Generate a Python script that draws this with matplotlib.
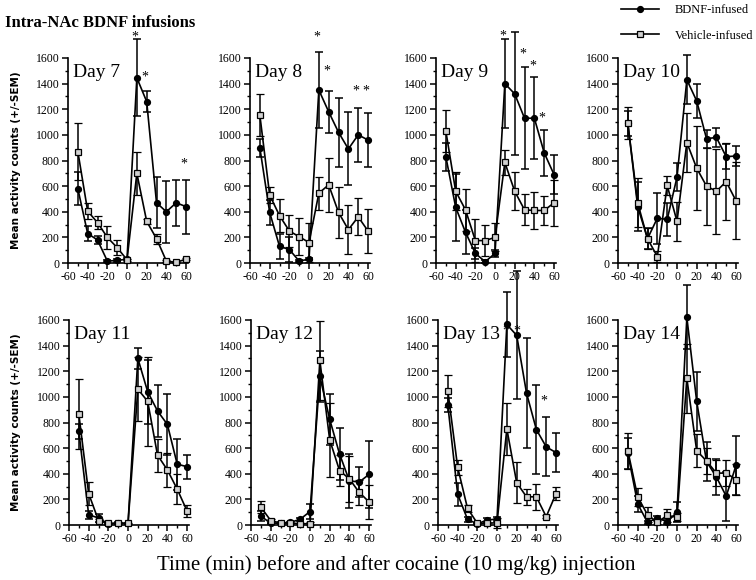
import matplotlib
matplotlib.use("Agg")
import matplotlib.pyplot as plt
from matplotlib.lines import Line2D
from matplotlib.ticker import MultipleLocator

plt.rcParams['font.family'] = ['Liberation Serif', 'DejaVu Serif']
plt.rcParams['axes.unicode_minus'] = False

# time points (min) relative to the cocaine injection
minutes = [-50, -40, -30, -20, -10, 0, 10, 20, 30, 40, 50, 60]

# Day 7
bdnf7 = [580, 230, 180, 15, 20, 30, 1445, 1260, 470, 400, 470, 440]
bdnf7_sem = [130, 60, 30, 10, 15, 10, 300, 85, 200, 240, 180, 210]
veh7 = [870, 405, 315, 200, 120, 25, 700, 325, 190, 15, 5, 30]
veh7_sem = [220, 60, 50, 90, 60, 10, 170, 20, 40, 10, 5, 10]
star7_x = [8, 18, 58]
star7_y = [1760, 1450, 770]

# Day 8
bdnf8 = [900, 395, 130, 105, 15, 30, 1350, 1180, 1020, 890, 1000, 960]
bdnf8_sem = [70, 100, 100, 100, 10, 10, 300, 165, 270, 285, 210, 210]
veh8 = [1155, 530, 370, 250, 205, 160, 545, 610, 395, 260, 360, 250]
veh8_sem = [165, 60, 130, 125, 145, 150, 130, 210, 200, 190, 145, 175]
star8_x = [8, 18, 48, 58]
star8_y = [1760, 1500, 1340, 1340]

# Day 9
bdnf9 = [830, 435, 240, 75, 10, 75, 1400, 1320, 1130, 1130, 860, 690]
bdnf9_sem = [110, 260, 170, 40, 10, 30, 350, 480, 400, 320, 180, 150]
veh9 = [1030, 560, 415, 175, 175, 200, 785, 560, 415, 410, 410, 470]
veh9_sem = [165, 150, 165, 170, 120, 110, 100, 150, 120, 145, 110, 180]
star9_x = [8, 28, 38, 48]
star9_y = [1770, 1630, 1540, 1130]

# Day 10
bdnf10 = [1090, 440, 190, 350, 340, 670, 1430, 1265, 970, 980, 830, 835]
bdnf10_sem = [100, 190, 80, 200, 130, 110, 190, 130, 70, 75, 100, 80]
veh10 = [1090, 470, 190, 50, 605, 325, 940, 740, 600, 560, 635, 485]
veh10_sem = [125, 190, 80, 45, 75, 150, 230, 330, 300, 330, 300, 300]
star10_x = []
star10_y = []

# Day 11
bdnf11 = [730, 80, 55, 8, 15, 12, 1300, 1040, 890, 785, 475, 455]
bdnf11_sem = [60, 30, 30, 5, 10, 5, 80, 250, 200, 240, 200, 95]
veh11 = [865, 245, 35, 12, 15, 12, 1060, 965, 545, 430, 280, 110]
veh11_sem = [275, 90, 15, 5, 5, 5, 250, 350, 130, 135, 115, 45]
star11_x = []
star11_y = []

# Day 12
bdnf12 = [70, 13, 15, 20, 45, 105, 1160, 825, 555, 345, 335, 395]
bdnf12_sem = [40, 5, 5, 5, 10, 60, 200, 200, 200, 210, 120, 260]
veh12 = [140, 35, 15, 15, 10, 10, 1285, 665, 425, 360, 255, 180]
veh12_sem = [50, 10, 5, 5, 5, 10, 310, 290, 120, 180, 100, 130]
star12_x = []
star12_y = []

# Day 13
bdnf13 = [935, 240, 45, 8, 40, 45, 1565, 1480, 1030, 745, 610, 565]
bdnf13_sem = [55, 90, 20, 5, 15, 15, 250, 500, 430, 350, 230, 155]
veh13 = [1045, 450, 130, 13, 13, 18, 750, 330, 220, 220, 65, 245]
veh13_sem = [125, 60, 30, 5, 10, 40, 200, 160, 60, 100, 10, 50]
star13_x = [9, 20, 48]
star13_y = [1510, 1510, 965]

# Day 14
bdnf14 = [560, 165, 20, 55, 25, 100, 1620, 965, 495, 375, 225, 465]
bdnf14_sem = [120, 65, 15, 15, 15, 80, 250, 230, 150, 140, 190, 230]
veh14 = [580, 220, 80, 20, 75, 60, 1145, 580, 500, 405, 405, 355]
veh14_sem = [140, 70, 60, 10, 50, 30, 270, 130, 100, 100, 100, 120]
star14_x = []
star14_y = []

panels = [
    ("Day 7", bdnf7, bdnf7_sem, veh7, veh7_sem, star7_x, star7_y),
    ("Day 8", bdnf8, bdnf8_sem, veh8, veh8_sem, star8_x, star8_y),
    ("Day 9", bdnf9, bdnf9_sem, veh9, veh9_sem, star9_x, star9_y),
    ("Day 10", bdnf10, bdnf10_sem, veh10, veh10_sem, star10_x, star10_y),
    ("Day 11", bdnf11, bdnf11_sem, veh11, veh11_sem, star11_x, star11_y),
    ("Day 12", bdnf12, bdnf12_sem, veh12, veh12_sem, star12_x, star12_y),
    ("Day 13", bdnf13, bdnf13_sem, veh13, veh13_sem, star13_x, star13_y),
    ("Day 14", bdnf14, bdnf14_sem, veh14, veh14_sem, star14_x, star14_y),
]

W, H = 756, 580
fig = plt.figure(figsize=(W / 100, H / 100), dpi=100)

# axes placement in pixels (left edge of y spine)
lefts_top = [68, 250, 436, 618]
lefts_bot = [69, 251, 438, 618]
ax_w = 120
ax_h = 205
bottoms = [263, 525]

sq_face = '#d0d0d0'

for i, (name, b, bs, v, vs, sx, sy) in enumerate(panels):
    row = i // 4
    col = i % 4
    left = (lefts_top if row == 0 else lefts_bot)[col]
    ax = fig.add_axes([left / W, 1 - bottoms[row] / H, ax_w / W, ax_h / H])

    eb = ax.errorbar(minutes, b, yerr=bs, color='black', lw=1.2, marker='o',
                     ms=4.2, mfc='black', mec='black', capsize=3, elinewidth=1.1,
                     capthick=1.1, zorder=3)
    for art in eb.lines[0:1] + tuple(eb.lines[1]) + tuple(eb.lines[2]):
        art.set_clip_on(False)
    ev = ax.errorbar(minutes, v, yerr=vs, color='black', lw=1.2, marker='s',
                     ms=4.6, mfc=sq_face, mec='black', mew=0.9, capsize=3,
                     elinewidth=1.1, capthick=1.1, zorder=4)
    for art in ev.lines[0:1] + tuple(ev.lines[1]) + tuple(ev.lines[2]):
        art.set_clip_on(False)

    for x, y in zip(sx, sy):
        ax.text(x, y, '*', ha='center', va='center', fontsize=10, clip_on=False)

    ax.text(-54.5, 1450, name, fontsize=14, ha='left', va='baseline')

    ax.set_xlim(-60, 62)
    ax.set_ylim(0, 1600)
    ax.xaxis.set_major_locator(MultipleLocator(20))
    ax.xaxis.set_minor_locator(MultipleLocator(10))
    ax.yaxis.set_major_locator(MultipleLocator(200))
    ax.yaxis.set_minor_locator(MultipleLocator(100))
    ax.spines['top'].set_visible(False)
    ax.spines['right'].set_visible(False)
    ax.spines['left'].set_linewidth(1.2)
    ax.spines['bottom'].set_linewidth(1.2)
    ax.tick_params(which='major', direction='out', length=4, width=1.1,
                   labelsize=8.5, pad=2)
    ax.tick_params(which='minor', direction='out', length=2.5, width=1.0)
    ax.set_facecolor('none')

# titles and shared labels
fig.text(5 / W, 1 - 27 / H, 'Intra-NAc BDNF infusions', fontsize=12,
         fontweight='bold', ha='left', va='baseline')
fig.text(396 / W, 1 - 565 / H,
         'Time (min) before and after cocaine (10 mg/kg) injection',
         fontsize=15, ha='center', va='center')
for yc in [160, 422]:
    fig.text(16 / W, 1 - yc / H, 'Mean activity counts (+/-SEM)',
             family='DejaVu Sans', fontweight='bold', fontsize=7.5,
             rotation=90, ha='center', va='center')

handles = [
    Line2D([], [], color='black', lw=1.2, marker='o', ms=4.2, mfc='black'),
    Line2D([], [], color='black', lw=1.2, marker='s', ms=4.6, mfc=sq_face,
           mew=0.9),
]
fig.legend(handles, ['BDNF-infused', 'Vehicle-infused'], loc='upper left',
           bbox_to_anchor=(621 / W, 1 - 4 / H), frameon=False, fontsize=9,
           handlelength=3.0, handletextpad=1.3, labelspacing=1.1,
           borderpad=0, borderaxespad=0)

fig.savefig('out.png', dpi=100)
